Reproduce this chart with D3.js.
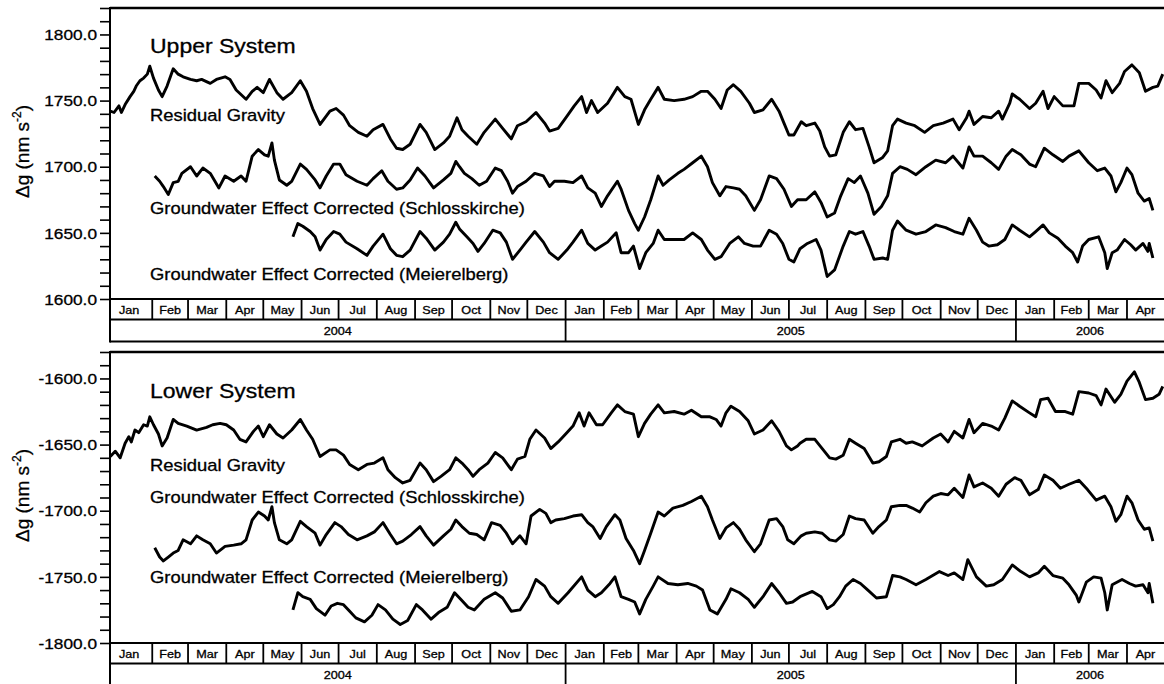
<!DOCTYPE html>
<html><head><meta charset="utf-8">
<script src="https://cdn.jsdelivr.net/npm/d3@7"></script>
<style>
body{margin:0;background:#fff}
svg{display:block}
text{font-family:"Liberation Sans",Arial,Helvetica,sans-serif;fill:#000;stroke:#000;stroke-width:0.3px}
</style>
</head><body>
<svg id="chart" width="1164" height="684"></svg>
<script>
// ---- data: [day offset from 2004-01-01, gravity residual in nm/s^2] ----
const upperResidual = [[-3,1742],[0,1741],[4,1746],[6,1741],[9,1747],[13,1753],[16,1757],[18,1761],[21,1765],[24,1767],[27,1770],[29,1776],[32,1767],[36,1758],[39,1753],[43,1761],[48,1774],[52,1770],[56,1768],[62,1766],[67,1765],[71,1766],[78,1763],[83,1766],[90,1768],[94,1766],[99,1758],[107,1751],[112,1757],[116,1760],[121,1756],[126,1766],[132,1756],[137,1751],[144,1756],[151,1765],[156,1757],[161,1744],[167,1732],[175,1742],[180,1744],[186,1739],[191,1731],[198,1726],[205,1723],[210,1728],[218,1732],[224,1721],[229,1714],[234,1713],[240,1717],[248,1732],[253,1726],[260,1713],[267,1718],[272,1723],[278,1737],[282,1728],[287,1723],[294,1717],[300,1726],[309,1736],[315,1729],[322,1721],[327,1731],[334,1734],[342,1741],[349,1733],[353,1727],[360,1729],[367,1738],[373,1746],[379,1753],[383,1741],[387,1750],[392,1741],[400,1748],[408,1760],[414,1753],[419,1751],[425,1732],[430,1743],[435,1751],[441,1760],[446,1751],[454,1750],[462,1751],[469,1753],[476,1757],[481,1757],[487,1751],[492,1744],[497,1758],[502,1762],[508,1757],[515,1748],[519,1741],[526,1743],[533,1751],[539,1742],[543,1733],[547,1724],[551,1724],[557,1734],[561,1731],[568,1733],[572,1727],[576,1715],[580,1708],[585,1709],[591,1726],[596,1734],[601,1728],[607,1729],[612,1715],[616,1703],[623,1707],[627,1712],[631,1731],[635,1736],[642,1733],[649,1731],[657,1726],[664,1731],[672,1733],[680,1736],[685,1728],[691,1737],[693,1742],[697,1732],[704,1738],[711,1737],[717,1742],[720,1736],[726,1748],[728,1755],[734,1751],[742,1744],[747,1748],[753,1757],[757,1744],[762,1753],[769,1746],[774,1746],[778,1746],[782,1763],[790,1763],[796,1758],[800,1752],[804,1765],[809,1756],[815,1763],[819,1772],[825,1777],[831,1771],[836,1757],[842,1760],[846,1761],[850,1770]];
const upperSchlosskirche = [[33,1693],[37,1689],[40,1685],[44,1679],[48,1688],[52,1689],[55,1695],[62,1700],[67,1693],[72,1699],[78,1695],[85,1684],[90,1693],[97,1689],[103,1693],[107,1689],[112,1708],[117,1713],[122,1709],[125,1708],[128,1718],[130,1705],[134,1690],[140,1686],[144,1689],[151,1702],[156,1698],[163,1690],[167,1684],[172,1693],[178,1702],[183,1702],[188,1694],[197,1689],[205,1686],[210,1691],[217,1697],[222,1689],[229,1683],[234,1684],[240,1690],[246,1699],[252,1693],[259,1684],[267,1690],[273,1695],[277,1704],[280,1700],[284,1695],[290,1691],[296,1686],[302,1689],[309,1699],[314,1697],[319,1689],[323,1680],[327,1685],[334,1689],[341,1695],[348,1693],[353,1685],[357,1689],[365,1689],[372,1688],[379,1693],[384,1684],[390,1680],[395,1670],[400,1678],[408,1689],[411,1683],[417,1667],[422,1657],[425,1652],[430,1662],[435,1675],[441,1693],[445,1686],[450,1690],[457,1695],[462,1698],[469,1703],[476,1708],[481,1700],[485,1688],[491,1678],[496,1685],[502,1684],[507,1683],[512,1678],[519,1667],[524,1675],[531,1693],[537,1691],[543,1683],[549,1670],[554,1675],[561,1675],[568,1681],[573,1673],[578,1662],[584,1665],[589,1678],[595,1691],[600,1688],[605,1693],[611,1680],[616,1664],[622,1670],[627,1678],[631,1695],[637,1700],[643,1698],[650,1694],[658,1700],[666,1705],[674,1703],[680,1708],[688,1699],[693,1715],[697,1708],[704,1708],[711,1703],[717,1698],[723,1708],[728,1713],[735,1709],[742,1702],[747,1700],[754,1714],[761,1709],[769,1704],[774,1708],[782,1712],[790,1703],[797,1697],[803,1699],[808,1693],[812,1681],[816,1688],[821,1699],[825,1694],[830,1680],[835,1674],[839,1676],[842,1667]];
const upperMeierelberg = [[145,1647],[149,1657],[153,1655],[159,1651],[163,1647],[167,1637],[172,1645],[178,1651],[183,1649],[188,1643],[197,1638],[205,1633],[210,1640],[218,1649],[224,1638],[229,1633],[234,1632],[240,1637],[248,1651],[253,1646],[260,1637],[267,1643],[272,1649],[277,1658],[280,1653],[286,1647],[291,1642],[295,1636],[300,1642],[307,1652],[313,1650],[318,1643],[323,1630],[329,1637],[334,1643],[341,1651],[348,1643],[353,1635],[360,1630],[367,1637],[372,1643],[379,1652],[384,1642],[390,1637],[395,1640],[400,1643],[407,1650],[411,1635],[417,1635],[421,1640],[426,1623],[431,1635],[437,1642],[441,1652],[446,1645],[454,1645],[462,1645],[469,1650],[476,1645],[481,1637],[487,1630],[492,1632],[499,1642],[506,1647],[511,1642],[518,1640],[524,1640],[531,1652],[537,1649],[542,1642],[547,1630],[551,1628],[556,1638],[562,1642],[569,1645],[573,1637],[578,1617],[584,1622],[591,1640],[596,1651],[601,1649],[607,1651],[612,1640],[616,1630],[623,1631],[627,1630],[631,1652],[635,1659],[642,1652],[650,1649],[658,1651],[666,1656],[674,1654],[681,1651],[688,1649],[693,1661],[699,1652],[704,1643],[709,1640],[716,1641],[722,1645],[728,1656],[734,1652],[742,1647],[747,1651],[753,1656],[758,1650],[765,1646],[771,1640],[777,1635],[781,1628],[785,1640],[790,1645],[798,1647],[803,1635],[805,1623],[809,1635],[813,1637],[819,1645],[824,1641],[828,1637],[834,1642],[838,1636],[839,1642],[842,1631]];
const lowerResidual = [[-3,-1659],[1,-1655],[5,-1660],[9,-1649],[12,-1644],[14,-1648],[17,-1639],[20,-1641],[24,-1635],[27,-1636],[29,-1629],[32,-1635],[36,-1642],[39,-1651],[43,-1645],[48,-1631],[52,-1634],[59,-1636],[67,-1639],[75,-1637],[80,-1635],[86,-1634],[91,-1635],[97,-1639],[102,-1646],[107,-1648],[113,-1640],[117,-1636],[121,-1644],[126,-1635],[132,-1642],[137,-1645],[144,-1639],[151,-1631],[156,-1639],[161,-1646],[167,-1659],[175,-1654],[180,-1654],[186,-1658],[191,-1665],[198,-1669],[205,-1665],[211,-1664],[218,-1660],[222,-1669],[228,-1675],[234,-1679],[240,-1677],[248,-1664],[253,-1669],[259,-1678],[265,-1674],[272,-1669],[277,-1660],[282,-1664],[287,-1669],[291,-1674],[296,-1669],[303,-1664],[309,-1656],[315,-1660],[322,-1669],[327,-1661],[333,-1659],[337,-1646],[342,-1639],[349,-1645],[354,-1653],[360,-1648],[367,-1641],[372,-1636],[377,-1626],[381,-1636],[385,-1626],[391,-1635],[396,-1635],[403,-1626],[408,-1620],[414,-1625],[421,-1627],[425,-1644],[430,-1634],[435,-1627],[441,-1620],[446,-1626],[454,-1625],[462,-1627],[468,-1624],[476,-1629],[483,-1629],[488,-1631],[492,-1636],[496,-1626],[500,-1621],[507,-1625],[514,-1632],[519,-1642],[526,-1639],[533,-1632],[539,-1640],[545,-1651],[549,-1654],[554,-1651],[556,-1649],[561,-1646],[568,-1646],[574,-1653],[580,-1660],[585,-1661],[591,-1658],[596,-1646],[601,-1649],[608,-1653],[615,-1664],[620,-1663],[626,-1659],[630,-1648],[637,-1646],[642,-1649],[647,-1648],[655,-1651],[664,-1645],[670,-1642],[676,-1648],[681,-1640],[688,-1645],[693,-1631],[697,-1641],[704,-1634],[711,-1636],[717,-1639],[722,-1630],[728,-1617],[734,-1621],[742,-1626],[747,-1629],[751,-1616],[757,-1615],[763,-1625],[771,-1625],[777,-1627],[782,-1610],[790,-1611],[796,-1613],[800,-1620],[804,-1608],[811,-1618],[816,-1612],[821,-1602],[827,-1595],[831,-1603],[836,-1616],[842,-1615],[847,-1612],[850,-1606]];
const lowerSchlosskirche = [[33,-1728],[37,-1735],[40,-1738],[44,-1735],[48,-1732],[52,-1730],[56,-1722],[62,-1725],[67,-1719],[72,-1722],[78,-1725],[83,-1732],[90,-1727],[97,-1726],[103,-1725],[107,-1722],[112,-1707],[117,-1701],[122,-1704],[125,-1707],[128,-1697],[130,-1709],[134,-1722],[140,-1725],[144,-1722],[151,-1708],[156,-1712],[163,-1717],[167,-1726],[172,-1718],[179,-1709],[184,-1712],[190,-1718],[197,-1722],[205,-1719],[211,-1716],[218,-1709],[224,-1718],[229,-1725],[234,-1723],[241,-1718],[248,-1712],[253,-1719],[259,-1726],[267,-1719],[273,-1714],[277,-1707],[282,-1712],[288,-1717],[294,-1718],[300,-1722],[306,-1709],[313,-1711],[318,-1717],[323,-1725],[329,-1719],[334,-1725],[338,-1704],[345,-1699],[350,-1702],[354,-1709],[358,-1707],[365,-1706],[372,-1704],[379,-1703],[384,-1709],[388,-1712],[394,-1721],[399,-1712],[406,-1703],[410,-1707],[415,-1721],[421,-1730],[426,-1740],[430,-1730],[435,-1717],[441,-1701],[446,-1704],[453,-1698],[461,-1696],[468,-1693],[476,-1689],[481,-1697],[485,-1707],[491,-1721],[496,-1713],[502,-1709],[507,-1714],[512,-1722],[519,-1731],[524,-1725],[531,-1707],[537,-1706],[542,-1712],[546,-1722],[551,-1725],[557,-1719],[561,-1717],[568,-1716],[574,-1717],[580,-1722],[585,-1723],[591,-1718],[596,-1704],[601,-1706],[608,-1707],[615,-1717],[620,-1712],[626,-1707],[630,-1697],[637,-1696],[642,-1696],[647,-1698],[653,-1701],[658,-1694],[664,-1689],[670,-1687],[676,-1688],[681,-1683],[688,-1690],[693,-1673],[697,-1682],[704,-1679],[711,-1683],[717,-1689],[723,-1680],[730,-1675],[735,-1677],[742,-1688],[749,-1684],[754,-1673],[761,-1677],[767,-1683],[774,-1680],[782,-1677],[789,-1684],[796,-1692],[803,-1689],[808,-1697],[812,-1708],[816,-1703],[821,-1689],[825,-1694],[830,-1707],[835,-1714],[839,-1713],[842,-1723]];
const lowerMeierelberg = [[145,-1775],[149,-1762],[153,-1765],[159,-1767],[164,-1774],[171,-1779],[176,-1772],[181,-1770],[186,-1771],[191,-1776],[196,-1781],[203,-1784],[209,-1779],[214,-1771],[220,-1775],[226,-1782],[232,-1786],[238,-1783],[245,-1771],[250,-1775],[257,-1782],[263,-1777],[270,-1773],[276,-1762],[281,-1767],[287,-1773],[292,-1775],[300,-1767],[309,-1762],[315,-1766],[322,-1776],[329,-1775],[336,-1765],[342,-1752],[349,-1757],[354,-1765],[360,-1770],[368,-1762],[379,-1750],[384,-1760],[390,-1765],[395,-1762],[402,-1755],[406,-1750],[411,-1765],[417,-1767],[422,-1769],[426,-1778],[431,-1767],[437,-1757],[441,-1750],[449,-1755],[457,-1756],[465,-1755],[472,-1757],[477,-1760],[483,-1775],[489,-1778],[496,-1767],[500,-1759],[507,-1762],[514,-1767],[519,-1773],[526,-1765],[533,-1755],[539,-1762],[545,-1770],[550,-1769],[556,-1765],[566,-1761],[573,-1765],[578,-1774],[583,-1771],[588,-1765],[593,-1757],[599,-1752],[605,-1755],[611,-1760],[618,-1766],[626,-1765],[631,-1749],[637,-1750],[642,-1752],[650,-1756],[658,-1752],[669,-1746],[676,-1749],[681,-1747],[688,-1752],[692,-1737],[699,-1750],[707,-1757],[713,-1756],[720,-1752],[728,-1741],[735,-1746],[742,-1750],[749,-1747],[754,-1742],[761,-1749],[769,-1751],[774,-1756],[780,-1764],[782,-1769],[788,-1754],[794,-1750],[800,-1751],[803,-1762],[805,-1775],[809,-1756],[817,-1752],[823,-1755],[828,-1757],[834,-1756],[838,-1762],[839,-1755],[842,-1770]];

const monthLabels = ["Jan","Feb","Mar","Apr","May","Jun","Jul","Aug","Sep","Oct","Nov","Dec"];
const upperTickLabels = [1600, 1650, 1700, 1750, 1800];
const lowerTickLabels = [-1800, -1750, -1700, -1650, -1600];
const upperDomain = [1600, 1820];
const lowerDomain = [-1800, -1580];
const seriesNames = ["Residual Gravity", "Groundwater Effect Corrected (Schlosskirche)", "Groundwater Effect Corrected (Meierelberg)"];
const panelTitles = ["Upper System", "Lower System"];

// ---- layout ----
const L = 110, R = 1164;
const plotH = 291, monthH = 20.5, yearH = 22;
const SX = 1.15; // horizontal stretch of glyphs seen in the original
const svg = d3.select("#chart");
const base = new Date(2004, 0, 1);
const toDate = d => d3.timeDay.offset(base, d);
const x = d3.scaleTime()
  .domain([new Date(2003, 11, 28, 18), new Date(2006, 4, 1)])
  .range([L, R]);
const fmt = v => d3.format(".1f")(v).replace("\u2212", "-");

function stretchText(sel, px, py, anchor, size, str) {
  return sel.append("text")
    .attr("transform", `translate(${px},${py}) scale(${SX},1)`)
    .attr("text-anchor", anchor)
    .attr("font-size", size)
    .text(str);
}

function drawPanel(top, domain, tickLabels, series, title, textY, idx) {
  const g = svg.append("g");
  const axisY = top + plotH;
  const monthBottom = axisY + monthH;
  const yearBottom = monthBottom + yearH;
  const y = d3.scaleLinear().domain(domain).range([axisY, top]);

  const cid = "clip" + idx;
  svg.append("clipPath").attr("id", cid).append("rect")
    .attr("x", L).attr("y", top).attr("width", R - L).attr("height", plotH);

  const line = d3.line().x(d => x(toDate(d[0]))).y(d => y(d[1]));
  g.append("g").attr("clip-path", `url(#${cid})`)
    .selectAll("path").data(series).join("path")
    .attr("d", line)
    .attr("fill", "none").attr("stroke", "#000")
    .attr("stroke-width", 2.9).attr("stroke-linejoin", "round");

  const ticks = d3.range(domain[0], domain[1] + 1, 10);
  const ax = d3.axisLeft(y).tickValues(ticks).tickSize(10).tickSizeOuter(0)
    .tickFormat(v => tickLabels.includes(v) ? fmt(v) : "");
  const ag = g.append("g").attr("transform", `translate(${L},0)`).call(ax);
  ag.select(".domain").remove();
  ag.selectAll(".tick line").attr("stroke", "#000").attr("stroke-width", 1.6);
  ag.selectAll(".tick text")
    .attr("x", null).attr("dy", "0.35em")
    .attr("transform", `translate(-13,0) scale(${SX},1)`)
    .attr("font-size", 15)
    .attr("font-family", '"Liberation Sans",Arial,sans-serif');

  const hl = (yy, sw) => g.append("line").attr("x1", L).attr("x2", R).attr("y1", yy).attr("y2", yy)
    .attr("stroke", "#000").attr("stroke-width", sw);
  hl(top, 2.4);
  hl(axisY, 2);
  hl(monthBottom, 2);
  hl(yearBottom, 2);
  g.append("line").attr("x1", L).attr("x2", L).attr("y1", top - 1).attr("y2", yearBottom + 1)
    .attr("stroke", "#000").attr("stroke-width", 2);

  const d1 = x.domain()[1];
  const months = d3.timeMonth.range(base, d1);
  months.forEach(m => {
    const s = Math.max(x(m), L), e = Math.min(x(d3.timeMonth.offset(m, 1)), R);
    const isFirst = +m === +base;
    if (!isFirst) {
      g.append("line").attr("x1", x(m)).attr("x2", x(m)).attr("y1", axisY).attr("y2", monthBottom)
        .attr("stroke", "#000").attr("stroke-width", 1.8);
    }
    stretchText(g, (isFirst ? L : s) / 2 + e / 2 - (isFirst ? 2 : 0), axisY + 14.5, "middle", 11, monthLabels[m.getMonth()]);
  });
  const years = d3.timeYear.range(base, d1);
  years.forEach(yr => {
    const isFirst = +yr === +base;
    const s = isFirst ? L : x(yr), e = Math.min(x(d3.timeYear.offset(yr, 1)), R);
    if (!isFirst) {
      g.append("line").attr("x1", x(yr)).attr("x2", x(yr)).attr("y1", monthBottom).attr("y2", yearBottom)
        .attr("stroke", "#000").attr("stroke-width", 1.8);
    }
    stretchText(g, (s + e) / 2, monthBottom + 15, "middle", 11, String(yr.getFullYear()));
  });

  const t = g.append("text")
    .attr("transform", `translate(29,${top + plotH / 2 - 2}) rotate(-90)`)
    .attr("text-anchor", "middle").attr("font-size", 19);
  t.append("tspan").text("\u0394g (nm s");
  t.append("tspan").attr("font-size", 12).attr("dy", -8).text("-2");
  t.append("tspan").attr("dy", 8).text(")");

  stretchText(g, 150, textY[0], "start", 20, title);
  seriesNames.forEach((n, i) => stretchText(g, 150, textY[i + 1], "start", 16, n));
}

drawPanel(8, upperDomain, upperTickLabels, [upperResidual, upperSchlosskirche, upperMeierelberg],
  panelTitles[0], [52.5, 121, 214, 280], 0);
drawPanel(352, lowerDomain, lowerTickLabels, [lowerResidual, lowerSchlosskirche, lowerMeierelberg],
  panelTitles[1], [398, 471, 503, 583], 1);
</script>
</body></html>
